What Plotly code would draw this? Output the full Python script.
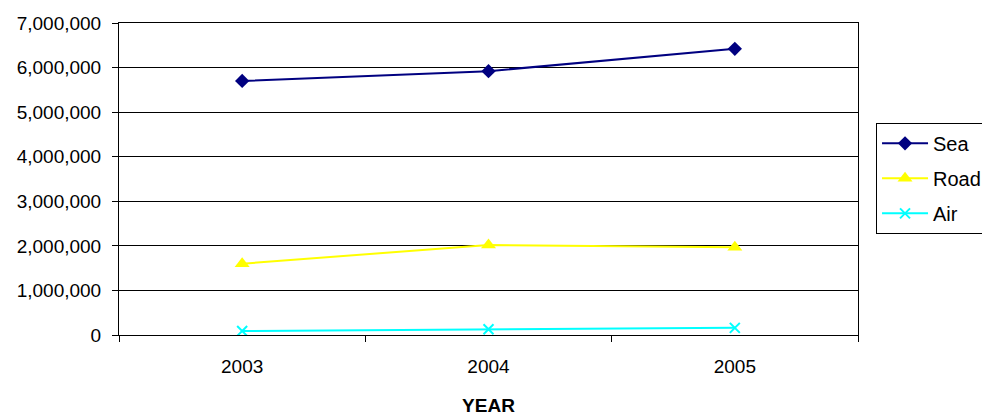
import plotly.graph_objects as go

years = ["2003", "2004", "2005"]
sea = [5700000, 5920000, 6420000]
road = [1600000, 2020000, 1970000]
air = [90000, 130000, 160000]

FONT = "Liberation Sans, Arial, sans-serif"

fig = go.Figure()
fig.add_trace(go.Scatter(
    x=years, y=sea, name="Sea", mode="lines+markers", legendgroup="sea",
    line=dict(color="#000080", width=2),
    marker=dict(symbol="diamond", size=11, color="#000080"),
))
fig.add_trace(go.Scatter(
    x=years, y=road, name="Road", mode="lines+markers", legendgroup="road",
    line=dict(color="#FFFF00", width=2),
    marker=dict(symbol="triangle-up", size=13, color="#FFFF00"),
))
fig.add_trace(go.Scatter(
    x=years, y=air, name="Air", mode="lines+markers", legendgroup="air",
    line=dict(color="#00FFFF", width=2),
    marker=dict(symbol="x-thin", size=10, color="#00FFFF",
                line=dict(color="#00FFFF", width=2)),
))

fig.update_layout(
    width=982, height=416,
    margin=dict(l=119, r=124, t=23, b=81, autoexpand=False),
    paper_bgcolor="white", plot_bgcolor="white",
    font=dict(family=FONT, size=19, color="black"),
    showlegend=True,
    legend=dict(
        x=1.0244, xanchor="left", y=0.68, yanchor="top",
        bgcolor="white", bordercolor="black", borderwidth=1,
        font=dict(family=FONT, size=20, color="black"),
        tracegroupgap=6, itemwidth=46,
    ),
    xaxis=dict(
        type="category", tickson="boundaries", range=[-0.5, 2.5],
        automargin=False,
        showline=True, linecolor="black", linewidth=1, mirror=True,
        ticks="outside", ticklen=6, tickcolor="black",
        ticklabelstandoff=14,
        showgrid=False, zeroline=False,
        title=dict(text="<b>YEAR</b>", font=dict(family=FONT, size=19), standoff=22),
    ),
    yaxis=dict(
        range=[0, 7000000], dtick=1000000, tickformat=",",
        automargin=False,
        showline=True, linecolor="black", linewidth=1, mirror=True,
        ticks="outside", ticklen=6, tickcolor="black",
        ticklabelstandoff=7,
        showgrid=True, gridcolor="black", gridwidth=1, zeroline=False,
    ),
)

fig.write_html("out.html")
